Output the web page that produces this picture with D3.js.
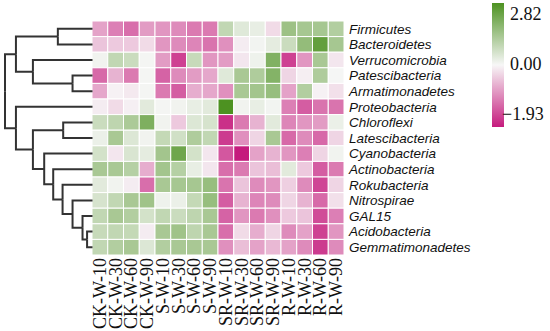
<!DOCTYPE html>
<html>
<head>
<meta charset="utf-8">
<script src="https://cdn.jsdelivr.net/npm/d3@7"></script>
<style>
  body { margin: 0; background: #fff; }
</style>
</head>
<body>
<svg id="chart"></svg>
<script>
// Chart size
var width = 550;
var height = 331;

// Row labels (phyla) in plotted order
var taxa = ["Firmicutes", "Bacteroidetes", "Verrucomicrobia", "Patescibacteria", "Armatimonadetes",
    "Proteobacteria", "Chloroflexi", "Latescibacteria", "Cyanobacteria", "Actinobacteria",
    "Rokubacteria", "Nitrospirae", "GAL15", "Acidobacteria", "Gemmatimonadetes"];

// Column labels (samples)
var samples = ["CK-W-10", "CK-W-30", "CK-W-60", "CK-W-90", "S-W-10", "S-W-30", "S-W-60", "S-W-90",
    "SR-W-10", "SR-W-30", "SR-W-60", "SR-W-90", "R-W-10", "R-W-30", "R-W-60", "R-W-90"];

// Scaled abundance, one array per row
var firmicutes      = [-0.75, -1.05, -1.2, -0.8, -0.85, -0.95, -1.1, -1.1, 0.9, 0.4, 0.25, -0.25, 1.5, 1.35, 1.35, 1.15];
var bacteroidetes   = [-0.45, -0.4, -0.4, -0.25, -0.85, -0.95, -1.0, -1.15, -0.9, -0.1, 0.08, 0.3, 0.75, 1.65, 2.45, 1.35];
var verrucomicrobia = [0.1, 0.9, 0.75, 0.05, -0.8, -1.6, 0.8, -0.85, -0.8, -0.15, 0.15, 1.95, -1.6, -0.85, 1.3, -0.15];
var patescibacteria = [-1.25, -0.6, -1.1, 0.05, -1.3, -0.95, -0.8, -0.7, 0.4, 1.3, 1.2, 1.9, -0.3, -0.08, 1.2, 0.03];
var armatimonadetes = [-0.7, -0.05, -0.12, 0.05, -1.1, -1.35, -0.65, -0.7, -0.9, 1.3, 1.4, 1.6, -0.75, 1.15, -0.05, -0.2];
var proteobacteria  = [-0.1, -0.25, -0.07, 0.35, 0.05, 0.1, 0.25, 0.35, 2.82, 0.1, 0.25, 0.08, -1.05, -1.35, -1.15, -1.15];
var chloroflexi     = [0.75, 0.95, 1.25, 2.0, 0.1, -0.4, 0.45, 0.55, -1.75, -1.1, -0.6, 0.35, -1.0, -0.85, -0.8, 0.2];
var latescibacteria = [0.2, 1.3, 0.45, 0.1, 0.85, 0.65, 1.2, 0.9, -1.65, -0.9, -0.3, 1.3, -1.25, -0.95, -1.25, -0.3];
var cyanobacteria   = [0.6, -0.15, 0.5, 0.3, 1.4, 2.25, 0.6, -0.15, -1.4, -1.93, -0.75, -0.6, -0.85, -1.05, -0.3, 0.1];
var actinobacteria  = [1.3, 1.3, 1.1, -0.65, 1.4, 1.1, 0.25, -0.15, -1.2, -1.1, -0.45, -0.5, 0.35, -0.4, -1.35, -1.1];
var rokubacteria    = [0.35, 0.1, -0.1, -1.2, 1.3, 1.35, 1.35, 1.6, -1.15, -0.45, -0.95, -0.85, -0.35, -0.95, -1.55, -0.3];
var nitrospirae     = [0.55, 0.9, 1.3, 1.45, 0.15, 0.2, 0.85, 1.6, -1.35, -0.6, -1.0, -0.95, -0.3, -0.6, -1.25, -0.2];
var gal15           = [0.9, 1.3, 1.15, 0.6, 0.9, 0.75, 0.95, 1.3, -1.3, -0.85, -1.1, -0.9, -0.4, -0.45, -1.5, -1.05];
var acidobacteria   = [0.8, 0.9, 0.85, -0.1, 1.3, 1.45, 0.95, 1.3, -1.2, -0.25, -0.65, -0.3, -0.95, -0.75, -1.6, -0.85];
var gemmatimonadetes = [0.9, 1.15, 1.3, 0.45, 1.15, 1.3, 1.3, 1.3, -0.9, -0.5, -0.75, -0.55, -0.75, -0.95, -1.65, -0.95];

var rows = [firmicutes, bacteroidetes, verrucomicrobia, patescibacteria, armatimonadetes,
    proteobacteria, chloroflexi, latescibacteria, cyanobacteria, actinobacteria,
    rokubacteria, nitrospirae, gal15, acidobacteria, gemmatimonadetes];

// Row dendrogram, hclust style: negative = leaf (1-based), positive = earlier merge
var merges = [[-1, -2], [-4, -5], [-3, 2], [1, 3], [-14, -15], [-13, 5], [-12, 6], [-11, 7],
    [-10, 8], [-9, 9], [-7, -8], [11, 10], [-6, 12], [4, 13]];
var mergeHeights = [3.96, 2.28, 6.81, 8.75, 0.62, 1.14, 2.28, 3.42, 4.49, 5.52, 3.35, 6.81, 8.75, 10];

// Colour key
var colorMin = -1.93;
var colorMax = 2.82;
var legendTicks = ["2.82", "0.00", "\u22121.93"];

var svg = d3.select("#chart")
    .attr("width", width)
    .attr("height", height);

var x = d3.scaleBand().domain(samples).range([92, 344]);
var y = d3.scaleBand().domain(taxa).range([21, 255]);

var color = d3.scaleLinear()
    .domain([colorMin, 0, colorMax])
    .range(["#c51b7d", "#f7f7f7", "#4d9221"]);

// Heatmap cells
var cells = [];
rows.forEach(function (r, i) {
    r.forEach(function (v, j) {
        cells.push({ taxon: taxa[i], sample: samples[j], value: v });
    });
});

svg.append("g")
    .selectAll("rect")
    .data(cells)
    .enter().append("rect")
    .attr("x", function (d) { return x(d.sample); })
    .attr("y", function (d) { return y(d.taxon); })
    .attr("width", x.bandwidth())
    .attr("height", y.bandwidth())
    .attr("fill", function (d) { return color(d.value); })
    .attr("stroke", "#fff")
    .attr("stroke-width", 1);

// Row labels
svg.append("g")
    .selectAll("text")
    .data(taxa)
    .enter().append("text")
    .attr("x", 349)
    .attr("y", function (d) { return y(d) + y.bandwidth() / 2; })
    .attr("dy", "0.36em")
    .style("font-family", "'Liberation Sans', Arial, sans-serif")
    .style("font-style", "italic")
    .style("font-size", "13.5px")
    .attr("fill", "#111")
    .text(function (d) { return d; });

// Column labels
svg.append("g")
    .selectAll("text")
    .data(samples)
    .enter().append("text")
    .attr("transform", function (d) {
        return "translate(" + (x(d) + x.bandwidth() / 2 + 6) + ",258) rotate(-90)";
    })
    .attr("text-anchor", "end")
    .style("font-family", "'Liberation Serif', 'Times New Roman', serif")
    .style("font-size", "18px")
    .attr("fill", "#111")
    .text(function (d) { return d; });

// Build the dendrogram
function buildNode(ref) {
    if (ref < 0) return { name: taxa[-ref - 1], h: 0 };
    var m = merges[ref - 1];
    return { h: mergeHeights[ref - 1], children: [buildNode(m[0]), buildNode(m[1])] };
}

var root = d3.hierarchy(buildNode(merges.length));
var xDen = d3.scaleLinear().domain([0, 10]).range([92.5, 5]);

root.eachAfter(function (n) {
    n.px = xDen(n.data.h);
    if (n.children) {
        n.py = d3.mean(n.children, function (c) { return c.py; });
    } else {
        n.py = y(n.data.name) + y.bandwidth() / 2;
    }
});

svg.append("g")
    .selectAll("path")
    .data(root.descendants().filter(function (d) { return d.parent; }))
    .enter().append("path")
    .attr("d", function (d) {
        return "M" + d.px + "," + d.py + "H" + d.parent.px + "V" + d.parent.py;
    })
    .attr("fill", "none")
    .attr("stroke", "#333")
    .attr("stroke-width", 2);

// Colour key
var defs = svg.append("defs");
var grad = defs.append("linearGradient")
    .attr("id", "key")
    .attr("x1", 0).attr("y1", 0)
    .attr("x2", 0).attr("y2", 1);
grad.append("stop").attr("offset", "0%").attr("stop-color", color(colorMax));
grad.append("stop").attr("offset", "50%").attr("stop-color", color(0));
grad.append("stop").attr("offset", "100%").attr("stop-color", color(colorMin));

svg.append("rect")
    .attr("x", 492)
    .attr("y", 3)
    .attr("width", 12)
    .attr("height", 124)
    .attr("fill", "url(#key)");

var keyY = d3.scalePoint().domain(legendTicks).range([14, 114]);

svg.append("g")
    .selectAll("text")
    .data(legendTicks)
    .enter().append("text")
    .attr("x", function (d, i) { return i === 2 ? 502 : 510; })
    .attr("y", function (d) { return keyY(d); })
    .attr("dy", "0.35em")
    .style("font-family", "'Liberation Serif', 'Times New Roman', serif")
    .style("font-size", "18px")
    .attr("fill", "#111")
    .text(function (d) { return d; });
</script>
</body>
</html>
